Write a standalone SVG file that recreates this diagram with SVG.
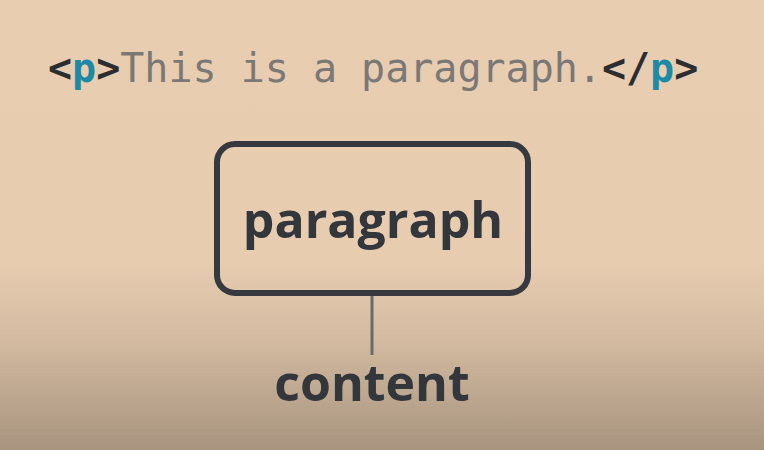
<svg xmlns="http://www.w3.org/2000/svg" width="764" height="450" viewBox="0 0 764 450">
<defs>
<linearGradient id="bg" x1="0" y1="0" x2="0" y2="1">
<stop offset="0" stop-color="#e8cdb1"/>
<stop offset="0.58" stop-color="#e7ccb0"/>
<stop offset="0.75" stop-color="#d4bba1"/>
<stop offset="1" stop-color="#a8947f"/>
</linearGradient>
<style>
.code{font-family:"DejaVu Sans Mono",monospace;font-size:40px}
.tag{font-weight:bold;fill:#2b2d31}
.tp{font-weight:bold;fill:#1c8aa6}
.txt{fill:#7b7876}
.lbl{font-family:"Open Sans","Noto Sans",sans-serif;font-weight:bold;font-size:50px;fill:#33363b;text-anchor:middle}
</style>
</defs>
<rect width="764" height="450" fill="url(#bg)"/>
<text class="code" x="48" y="82"><tspan class="tag">&lt;</tspan><tspan class="tp">p</tspan><tspan class="tag">&gt;</tspan><tspan class="txt">This is a paragraph.</tspan><tspan class="tag">&lt;/</tspan><tspan class="tp">p</tspan><tspan class="tag">&gt;</tspan></text>
<g id="connectors">
<line x1="372" y1="296" x2="372" y2="355" stroke="#6b6a6a" stroke-width="3"/>
</g>
<g id="node-paragraph">
<rect x="217" y="144" width="311" height="149" rx="18" fill="none" stroke="#363a40" stroke-width="6"/>
<text class="lbl" x="373" y="238">paragraph</text>
</g>
<g id="node-content">
<text class="lbl" x="372" y="401">content</text>
</g>
</svg>
